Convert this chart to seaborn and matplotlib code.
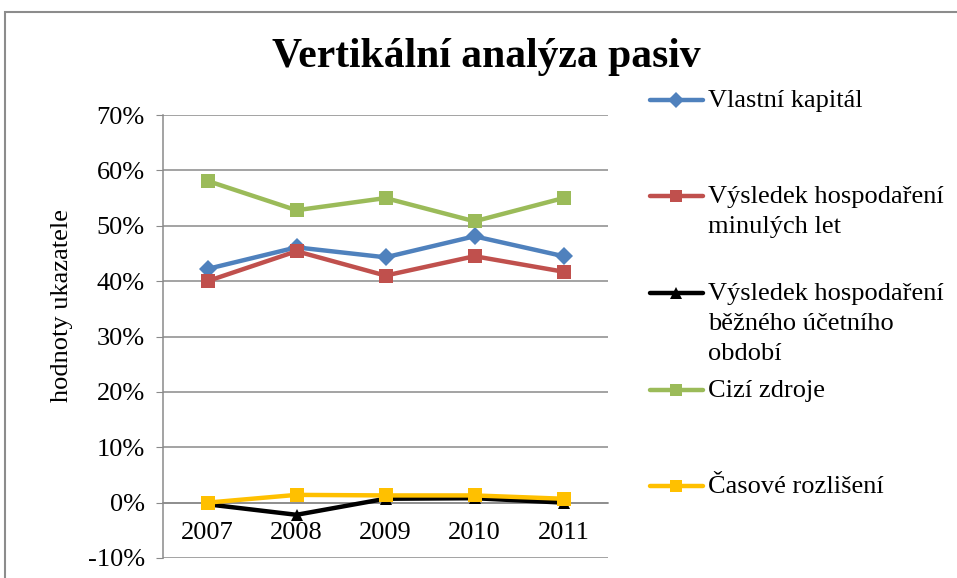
import matplotlib
matplotlib.use("Agg")
import matplotlib.pyplot as plt
import matplotlib.patches as mpatches
from matplotlib.lines import Line2D
from matplotlib.ticker import FuncFormatter, FixedLocator
import pandas as pd
import seaborn as sns

sns.set_style("white")
plt.rcParams["font.family"] = ["Liberation Serif", "DejaVu Serif"]
plt.rcParams["text.color"] = "black"
plt.rcParams["axes.labelcolor"] = "black"

years = ["2007", "2008", "2009", "2010", "2011"]
series_names = ["Vlastní kapitál",
                "Výsledek hospodaření\nminulých let",
                "Výsledek hospodaření\nběžného účetního\nobdobí",
                "Cizí zdroje",
                "Časové rozlišení"]
vlastni_kapital = [42.2, 46.1, 44.3, 48.1, 44.5]
vh_minulych_let = [40.0, 45.4, 41.0, 44.5, 41.7]
vh_bezneho_obdobi = [-0.3, -2.2, 0.7, 0.8, 0.0]
cizi_zdroje = [58.1, 52.8, 55.0, 50.8, 55.0]
casove_rozliseni = [0.0, 1.4, 1.3, 1.3, 0.7]

colors = ["#4F81BD", "#C0504D", "#000000", "#9BBB59", "#FFC000"]
markers = ["D", "s", "^", "s", "s"]
msizes = [9, 10, 9, 10, 10]

values = [vlastni_kapital, vh_minulych_let, vh_bezneho_obdobi, cizi_zdroje, casove_rozliseni]
rows = []
for name, vals in zip(series_names, values):
    for i, (y, v) in enumerate(zip(years, vals)):
        rows.append({"series": name, "pos": i, "year": y, "value": v})
df = pd.DataFrame(rows)

W, H = 957, 578
fig = plt.figure(figsize=(W / 100, H / 100), dpi=100)
ax = fig.add_axes([163 / W, 1 - 558 / H, (608 - 163) / W, (558 - 115) / H])

for name, c, m, ms in zip(series_names, colors, markers, msizes):
    sub = df[df["series"] == name]
    sns.lineplot(data=sub, x="pos", y="value", ax=ax, color=c, lw=3.2,
                 marker=m, markersize=ms, markeredgewidth=0, zorder=3)

ax.set_xlim(-0.5, 4.5)
ax.set_ylim(-10, 70)
ax.set_yticks(range(-10, 71, 10))
ax.yaxis.set_major_formatter(FuncFormatter(lambda v, p: f"{int(v)}%"))
ax.grid(axis="y", color="#8a8a8a", lw=1.1)
ax.grid(axis="x", visible=False)

for s in ["top", "right"]:
    ax.spines[s].set_visible(False)
ax.spines["left"].set_color("#8a8a8a")
ax.spines["left"].set_linewidth(1.1)
ax.spines["bottom"].set_position(("data", 0))
ax.spines["bottom"].set_color("#8a8a8a")
ax.spines["bottom"].set_linewidth(1.1)

ax.set_xticks(range(len(years)))
ax.set_xticklabels(years)
ax.xaxis.set_minor_locator(FixedLocator([0.5, 1.5, 2.5, 3.5, 4.5]))
ax.tick_params(axis="x", which="major", length=0, pad=14, labelsize=19, labelcolor="black")
ax.tick_params(axis="x", which="minor", length=5, color="#8a8a8a", direction="out")
ax.tick_params(axis="y", length=5, color="#8a8a8a", pad=8, labelsize=19, left=True,
               labelcolor="black")

ax.set_xlabel("")
ax.set_ylabel("hodnoty ukazatele", fontsize=19)
ax.yaxis.set_label_coords(-0.203, 0.571)

fig.text(486 / W, 1 - 57 / H, "Vertikální analýza pasiv", ha="center", va="center",
         fontsize=30, fontweight="bold", color="black")

# legend drawn by hand so multi-line labels sit like the original
legend_rows = [[100], [196, 226], [293, 323, 353], [390], [486]]
for name, c, m, ms, ys in zip(series_names, colors, markers, msizes, legend_rows):
    y0 = 1 - ys[0] / H
    fig.add_artist(Line2D([650 / W, 703 / W], [y0, y0], color=c, lw=3.2,
                          transform=fig.transFigure))
    fig.add_artist(Line2D([676 / W], [y0], color=c, marker=m, markersize=ms - 1,
                          markeredgewidth=0, transform=fig.transFigure))
    for line, yy in zip(name.split("\n"), ys):
        fig.text(708 / W, 1 - (yy + 7) / H, line, ha="left", va="baseline", fontsize=19,
                 color="black")

fig.add_artist(mpatches.Rectangle((5 / W, -0.1), 1.2, 1.1 - 12 / H, fill=False,
                                  edgecolor="#8c8c8c", lw=1.5, transform=fig.transFigure))

fig.savefig("out.png", dpi=100)
